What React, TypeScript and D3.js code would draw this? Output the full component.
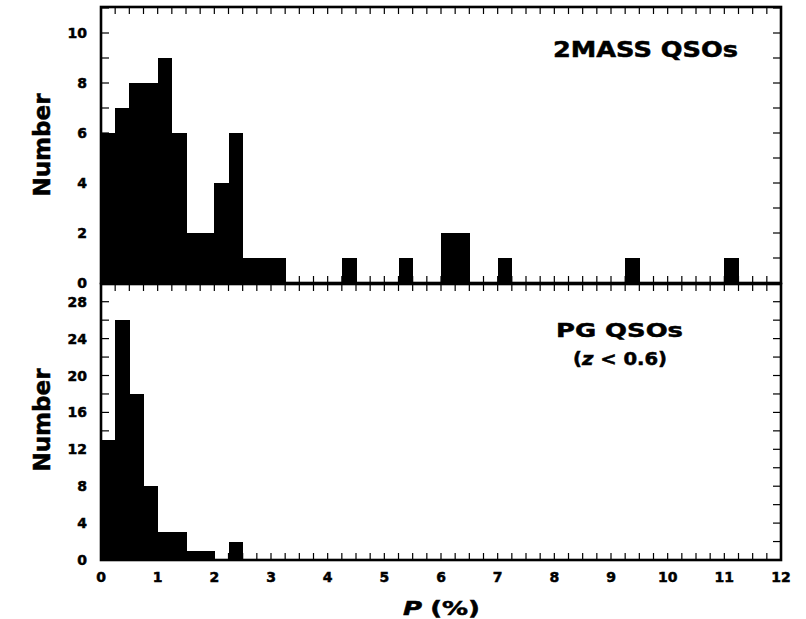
import React from "react";
import * as d3 from "d3";

// Bin width 0.25 in P (%)
const binWidth = 0.25;
const massBinStarts = [0, 0.25, 0.5, 0.75, 1.0, 1.25, 1.5, 1.75, 2.0, 2.25, 2.5, 2.75, 3.0, 4.25, 5.25, 6.0, 6.25, 7.0, 9.25, 11.0];
const massCounts = [6, 7, 8, 8, 9, 6, 2, 2, 4, 6, 1, 1, 1, 1, 1, 2, 2, 1, 1, 1];
const pgBinStarts = [0, 0.25, 0.5, 0.75, 1.0, 1.25, 1.5, 1.75, 2.25];
const pgCounts = [13, 26, 18, 8, 3, 3, 1, 1, 2];

const xTickLabels = [0, 1, 2, 3, 4, 5, 6, 7, 8, 9, 10, 11, 12];
const topYLabels = [0, 2, 4, 6, 8, 10];
const bottomYLabels = [0, 4, 8, 12, 16, 20, 24, 28];

const W = 806;
const H = 619;
const left = 101;
const right = 781;
const FONT = "'DejaVu Sans', 'Liberation Sans', Arial, sans-serif";

export default function App() {
  const x = d3.scaleLinear().domain([0, 12]).range([left, right]);
  const yTop = d3.scaleLinear().domain([0, 11.04]).range([283, 7]);
  const yBot = d3.scaleLinear().domain([0, 29.92]).range([560, 284]);

  const xMinor = d3.range(0, 12.0001, 0.25);
  const tickLen = 7;

  const heavy = { stroke: "#000", strokeWidth: 0.5 };

  const panel = (
    y: d3.ScaleLinear<number, number>,
    starts: number[],
    counts: number[],
    yMinorStep: number,
    yLabels: number[],
    key: string
  ) => {
    const [y0, y1] = y.range();
    const yMax = y.domain()[1];
    const yMinor = d3.range(0, yMax + 0.0001, yMinorStep);
    return (
      <g key={key}>
        <g shapeRendering="crispEdges">
          {starts.map((s, i) => (
            <rect
              key={i}
              x={x(s)}
              y={y(counts[i])}
              width={x(s + binWidth) - x(s) + 0.6}
              height={y(0) - y(counts[i])}
              fill="#000"
            />
          ))}
        </g>
        {xMinor.map((v, i) => (
          <g key={"xt" + i}>
            <line x1={x(v)} x2={x(v)} y1={y0} y2={y0 - tickLen} stroke="#000" strokeWidth={1.2} />
            <line x1={x(v)} x2={x(v)} y1={y1} y2={y1 + tickLen} stroke="#000" strokeWidth={1.2} />
          </g>
        ))}
        {yMinor.map((v, i) => (
          <g key={"yt" + i}>
            <line x1={left} x2={left + 8} y1={y(v)} y2={y(v)} stroke="#000" strokeWidth={1.2} />
            <line x1={right} x2={right - 8} y1={y(v)} y2={y(v)} stroke="#000" strokeWidth={1.2} />
          </g>
        ))}
        {yLabels.map((v) => (
          <text
            key={"yl" + v}
            x={87}
            y={y(v) + 5}
            textAnchor="end"
            fontFamily={FONT}
            fontWeight="bold"
            fontSize={14}
            {...heavy}
          >
            {v}
          </text>
        ))}
        <rect x={left} y={y1} width={right - left} height={y0 - y1} fill="none" stroke="#000" strokeWidth={2.6} />
      </g>
    );
  };

  return (
    <svg
      width={W}
      height={H}
      style={{ position: "absolute", left: 0, top: 0, background: "#fff" }}
    >
      <rect x={0} y={0} width={W} height={H} fill="#fff" />
      {panel(yTop, massBinStarts, massCounts, 1, topYLabels, "top")}
      {panel(yBot, pgBinStarts, pgCounts, 2, bottomYLabels, "bot")}

      {xTickLabels.map((v) => (
        <text
          key={"xl" + v}
          x={x(v)}
          y={582}
          textAnchor="middle"
          fontFamily={FONT}
          fontWeight="bold"
          fontSize={14}
          {...heavy}
        >
          {v}
        </text>
      ))}

      <text
        x={403}
        y={615}
        fontFamily={FONT}
        fontWeight="bold"
        fontSize={19}
        textLength={77}
        lengthAdjust="spacingAndGlyphs"
        {...heavy}
      >
        <tspan fontStyle="italic">P</tspan>
        <tspan dx={6}>(%)</tspan>
      </text>

      <text
        transform={`translate(50, ${(yTop(0) + yTop(11.04)) / 2}) rotate(-90)`}
        textAnchor="middle"
        fontFamily={FONT}
        fontWeight="bold"
        fontSize={23}
        {...heavy}
      >
        Number
      </text>
      <text
        transform={`translate(50, ${(yBot(0) + yBot(29.92)) / 2 - 2}) rotate(-90)`}
        textAnchor="middle"
        fontFamily={FONT}
        fontWeight="bold"
        fontSize={23}
        {...heavy}
      >
        Number
      </text>

      <text
        x={553}
        y={57}
        fontFamily={FONT}
        fontWeight="bold"
        fontSize={21.5}
        textLength={185}
        lengthAdjust="spacingAndGlyphs"
        {...heavy}
      >
        2MASS QSOs
      </text>
      <text
        x={556}
        y={337}
        fontFamily={FONT}
        fontWeight="bold"
        fontSize={20}
        textLength={127}
        lengthAdjust="spacingAndGlyphs"
        {...heavy}
      >
        PG QSOs
      </text>
      <text
        x={573}
        y={365}
        fontFamily={FONT}
        fontWeight="bold"
        fontSize={17}
        textLength={94}
        lengthAdjust="spacingAndGlyphs"
        {...heavy}
      >
        (<tspan fontStyle="italic">z</tspan> &lt; 0.6)
      </text>
    </svg>
  );
}
